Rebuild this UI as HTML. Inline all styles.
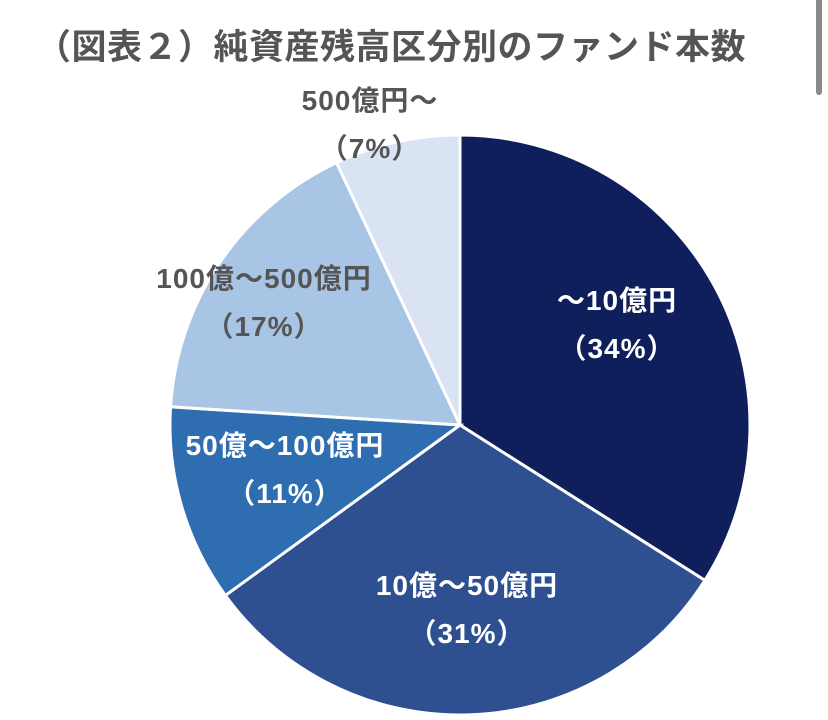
<!DOCTYPE html>
<html><head><meta charset="utf-8">
<style>
html,body{margin:0;padding:0;background:#fff;width:828px;height:720px;overflow:hidden;}
body{position:relative;font-family:"Liberation Sans","Noto Sans CJK JP",sans-serif;}
#title{position:absolute;left:36px;top:19px;font-size:35px;font-weight:bold;color:#555;letter-spacing:0.5px;white-space:nowrap;}
#scroll{position:absolute;left:816px;top:0;width:6px;height:95px;background:#8a8a8a;border-radius:0 0 3px 3px;}
svg{position:absolute;left:0;top:0;}
</style></head><body>
<div id="title">（図表２）純資産残高区分別のファンド本数</div>
<div id="scroll"></div>
<svg id="chart" width="828" height="720"></svg>
<script>
const categories=["～10億円","10億～50億円","50億～100億円","100億～500億円","500億円～"];
const values=[34,31,11,17,7];
const labels=["（34%）","（31%）","（11%）","（17%）","（7%）"];
const colors=["#0e1f5b","#2f5090","#2d6db0","#a8c5e6","#dae3f3"];
const textColors=["#fff","#fff","#fff","#555","#555"];
const labelPos=[[617,310],[467,595],[285,455],[264,288],[370,110]];
const cx=460,cy=425,r=290;
const svg=document.getElementById('chart');
const NS='http://www.w3.org/2000/svg';
const total=values.reduce((a,b)=>a+b,0);
function pt(a){return [cx+r*Math.sin(a),cy-r*Math.cos(a)];}
let a0=0;
values.forEach((v,i)=>{
  const a1=a0+v/total*2*Math.PI;
  const p0=pt(a0),p1=pt(a1);
  const large=(a1-a0)>Math.PI?1:0;
  const path=document.createElementNS(NS,'path');
  path.setAttribute('d',`M${cx},${cy}L${p0[0]},${p0[1]}A${r},${r} 0 ${large} 1 ${p1[0]},${p1[1]}Z`);
  path.setAttribute('fill',colors[i]);
  path.setAttribute('stroke','#fff');
  path.setAttribute('stroke-width','3');
  
  
  svg.appendChild(path);
  a0=a1;
});
values.forEach((v,i)=>{
  const [x,y]=labelPos[i];
  const g=document.createElementNS(NS,'g');
  
  
  [[categories[i],0],[labels[i],48]].forEach(([t,dy])=>{
    const tx=document.createElementNS(NS,'text');
    tx.setAttribute('x',x);tx.setAttribute('y',y+dy);
    tx.setAttribute('text-anchor','middle');
    tx.setAttribute('font-size','28');
    tx.setAttribute('letter-spacing','1');
    tx.setAttribute('font-weight','bold');
    tx.setAttribute('fill',textColors[i]);
    tx.setAttribute('font-family','"Liberation Sans","Noto Sans CJK JP",sans-serif');
    tx.textContent=t;
    g.appendChild(tx);
  });
  svg.appendChild(g);
});
</script>
</body></html>
